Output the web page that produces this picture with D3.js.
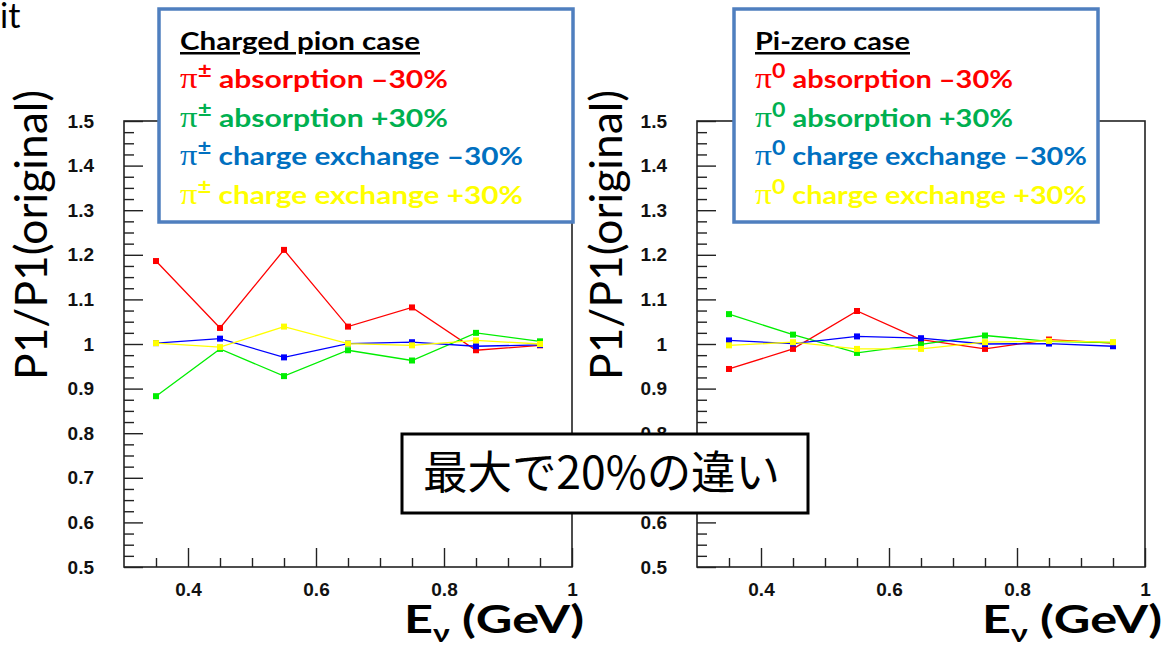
<!DOCTYPE html>
<html>
<head>
<meta charset="utf-8">
<script src="https://cdn.jsdelivr.net/npm/d3@7"></script>
<style>
  body { margin: 0; background: #fff; }
  svg { display: block; }
</style>
</head>
<body>
<svg id="chart" width="1163" height="648"></svg>
<script>
// Neutrino energy bin centres (GeV)
const energies = [0.35, 0.45, 0.55, 0.65, 0.75, 0.85, 0.95];

// Charged pion case: P1 / P1(original)
const chargedAbsMinus = [1.186, 1.036, 1.211, 1.039, 1.082, 0.986, 0.997];
const chargedAbsPlus  = [0.883, 0.989, 0.928, 0.986, 0.963, 1.025, 1.006];
const chargedCexMinus = [1.002, 1.012, 0.970, 1.001, 1.004, 0.995, 0.998];
const chargedCexPlus  = [1.002, 0.993, 1.039, 1.001, 0.997, 1.008, 1.000];

// Pi-zero case: P1 / P1(original)
const pizeroAbsMinus = [0.944, 0.989, 1.074, 1.010, 0.989, 1.010, 1.002];
const pizeroAbsPlus  = [1.067, 1.021, 0.980, 0.999, 1.019, 1.006, 1.003];
const pizeroCexMinus = [1.008, 1.001, 1.017, 1.013, 1.000, 1.001, 0.995];
const pizeroCexPlus  = [0.997, 1.004, 0.989, 0.989, 1.004, 1.007, 1.004];

// Axis ticks
const yTickLabels = [0.5, 0.6, 0.7, 0.8, 0.9, 1.0, 1.1, 1.2, 1.3, 1.4, 1.5];
const xTickLabels = [0.4, 0.6, 0.8, 1.0];

// Legend texts
const chargedTitle = "Charged pion case";
const chargedSymbol = ["π", "±"];
const pizeroTitle = "Pi-zero case";
const pizeroSymbol = ["π", "0"];
const variationNames = [" absorption –30%", " absorption +30%", " charge exchange –30%", " charge exchange +30%"];

const yTitle = "P1/P1(original)";
const xTitleParts = ["E", "ν", " (GeV)"];
const noteText = "最大で20%の違い";
const cornerText = "it";

// Colours: plotted lines and legend text
const lineColors   = ["#ff0000", "#00ee00", "#0000ff", "#ffff00"];
const legendColors = ["#ff0000", "#00b050", "#0070c0", "#ffff00"];

const svg = d3.select("#chart");
const TOP = 121, BOTTOM = 567;
const FONT = "Lato, 'Open Sans', sans-serif";
const TICKFONT = "'Liberation Sans', Arial, sans-serif";

function fit(sel, width) {
  sel.attr("textLength", width).attr("lengthAdjust", "spacingAndGlyphs");
}

function drawPanel(left, right, series, yTitleX, xTitleX) {
  const x = d3.scaleLinear().domain([0.3, 1.0]).range([left, right]);
  const y = d3.scaleLinear().domain([0.5, 1.5]).range([BOTTOM, TOP]);
  const g = svg.append("g");

  // minor ticks
  const yMinor = d3.range(0.5, 1.5001, 0.025).filter(v => Math.abs(v * 10 - Math.round(v * 10)) > 1e-6);
  const xMinor = d3.range(0.35, 1.0001, 0.05).filter(v => !xTickLabels.some(t => Math.abs(t - v) < 1e-6));

  const yMin = g.append("g").attr("transform", `translate(${left},0)`)
    .call(d3.axisLeft(y).tickValues(yMinor).tickSize(-10).tickSizeOuter(0).tickFormat(""));
  yMin.select(".domain").remove();
  const xMin = g.append("g").attr("transform", `translate(0,${BOTTOM})`)
    .call(d3.axisBottom(x).tickValues(xMinor).tickSize(-9).tickSizeOuter(0).tickFormat(""));
  xMin.select(".domain").remove();

  const yAx = g.append("g").attr("transform", `translate(${left},0)`)
    .call(d3.axisLeft(y).tickValues(yTickLabels).tickSize(-19).tickSizeOuter(0).tickPadding(30)
      .tickFormat(d => String(+d.toFixed(1))));
  yAx.select(".domain").remove();
  const xAx = g.append("g").attr("transform", `translate(0,${BOTTOM})`)
    .call(d3.axisBottom(x).tickValues(xTickLabels).tickSize(-19).tickSizeOuter(0).tickPadding(16)
      .tickFormat(d => String(+d.toFixed(1))));
  xAx.select(".domain").remove();

  g.selectAll(".tick line").attr("stroke", "#222").attr("stroke-width", 1.4);
  g.selectAll(".tick text").attr("font-family", TICKFONT).attr("font-weight", "bold")
    .attr("font-size", 19).attr("fill", "#111");

  // frame
  g.append("rect").attr("x", left).attr("y", TOP).attr("width", right - left).attr("height", BOTTOM - TOP)
    .attr("fill", "none").attr("stroke", "#222").attr("stroke-width", 1.6);

  // series
  const line = d3.line().x((d, i) => x(energies[i])).y(d => y(d));
  series.forEach((vals, k) => {
    g.append("path").attr("d", line(vals)).attr("fill", "none")
      .attr("stroke", lineColors[k]).attr("stroke-width", 1.3);
    g.selectAll(null).data(vals).enter().append("rect")
      .attr("x", (d, i) => x(energies[i]) - 3).attr("y", d => y(d) - 3)
      .attr("width", 6).attr("height", 6).attr("fill", lineColors[k]);
  });

  // y title
  const yt = svg.append("text")
    .attr("transform", `translate(${yTitleX},235) rotate(-90)`)
    .attr("text-anchor", "middle").attr("font-family", FONT).attr("font-size", 44)
    .attr("fill", "#000").text(yTitle);
  fit(yt, 290);

  // x title
  const xt = svg.append("text").attr("x", xTitleX).attr("y", 633)
    .attr("font-family", FONT).attr("font-weight", "bold").attr("font-size", 38).attr("fill", "#000");
  xt.append("tspan").text(xTitleParts[0]);
  xt.append("tspan").attr("font-size", 24).attr("dy", 9).text(xTitleParts[1]);
  xt.append("tspan").attr("dy", -9).text(xTitleParts[2]);
  fit(xt, 180);
}

drawPanel(124, 572, [chargedAbsMinus, chargedAbsPlus, chargedCexMinus, chargedCexPlus], 47, 404);
drawPanel(697, 1145, [pizeroAbsMinus, pizeroAbsPlus, pizeroCexMinus, pizeroCexPlus], 622, 982);

// legends
function drawLegend(bx, bw, title, sym, widths) {
  svg.append("rect").attr("x", bx).attr("y", 9).attr("width", bw).attr("height", 213)
    .attr("fill", "#fff").attr("stroke", "#4f7fbf").attr("stroke-width", 3.5);
  const tx = bx + 21;
  const t = svg.append("text").attr("x", tx).attr("y", 50)
    .attr("font-family", FONT).attr("font-weight", "bold").attr("font-size", 25)
    .attr("text-decoration", "underline").attr("fill", "#000").text(title);
  fit(t, widths[0]);
  variationNames.forEach((name, i) => {
    const line = svg.append("text").attr("x", tx).attr("y", 88 + i * 38.7)
      .attr("font-family", FONT).attr("font-weight", "bold").attr("font-size", 25)
      .attr("fill", legendColors[i]);
    line.append("tspan").attr("font-family", "'Liberation Serif', 'DejaVu Serif', serif")
      .attr("font-weight", "normal").attr("font-size", 29).text(sym[0]);
    line.append("tspan").attr("font-size", 20).attr("dy", -10).text(sym[1]);
    line.append("tspan").attr("dy", 10).text(name);
    fit(line, widths[1 + (i < 2 ? 0 : 1)]);
  });
}
drawLegend(159, 414, chargedTitle, chargedSymbol, [240, 268, 343]);
drawLegend(734, 364, pizeroTitle, pizeroSymbol, [155, 258, 332]);

// note box
svg.append("rect").attr("x", 402).attr("y", 434).attr("width", 406).attr("height", 79)
  .attr("fill", "#fff").attr("stroke", "#000").attr("stroke-width", 3);
const note = svg.append("text").attr("x", 423).attr("y", 489)
  .attr("font-family", "'Noto Sans CJK JP', sans-serif").attr("font-size", 45)
  .attr("fill", "#000").text(noteText);
fit(note, 357);

// fragment of a heading at the top-left corner
svg.append("text").attr("x", 0).attr("y", 28).attr("font-family", FONT)
  .attr("font-size", 34).attr("fill", "#000").text(cornerText);
</script>
</body>
</html>
